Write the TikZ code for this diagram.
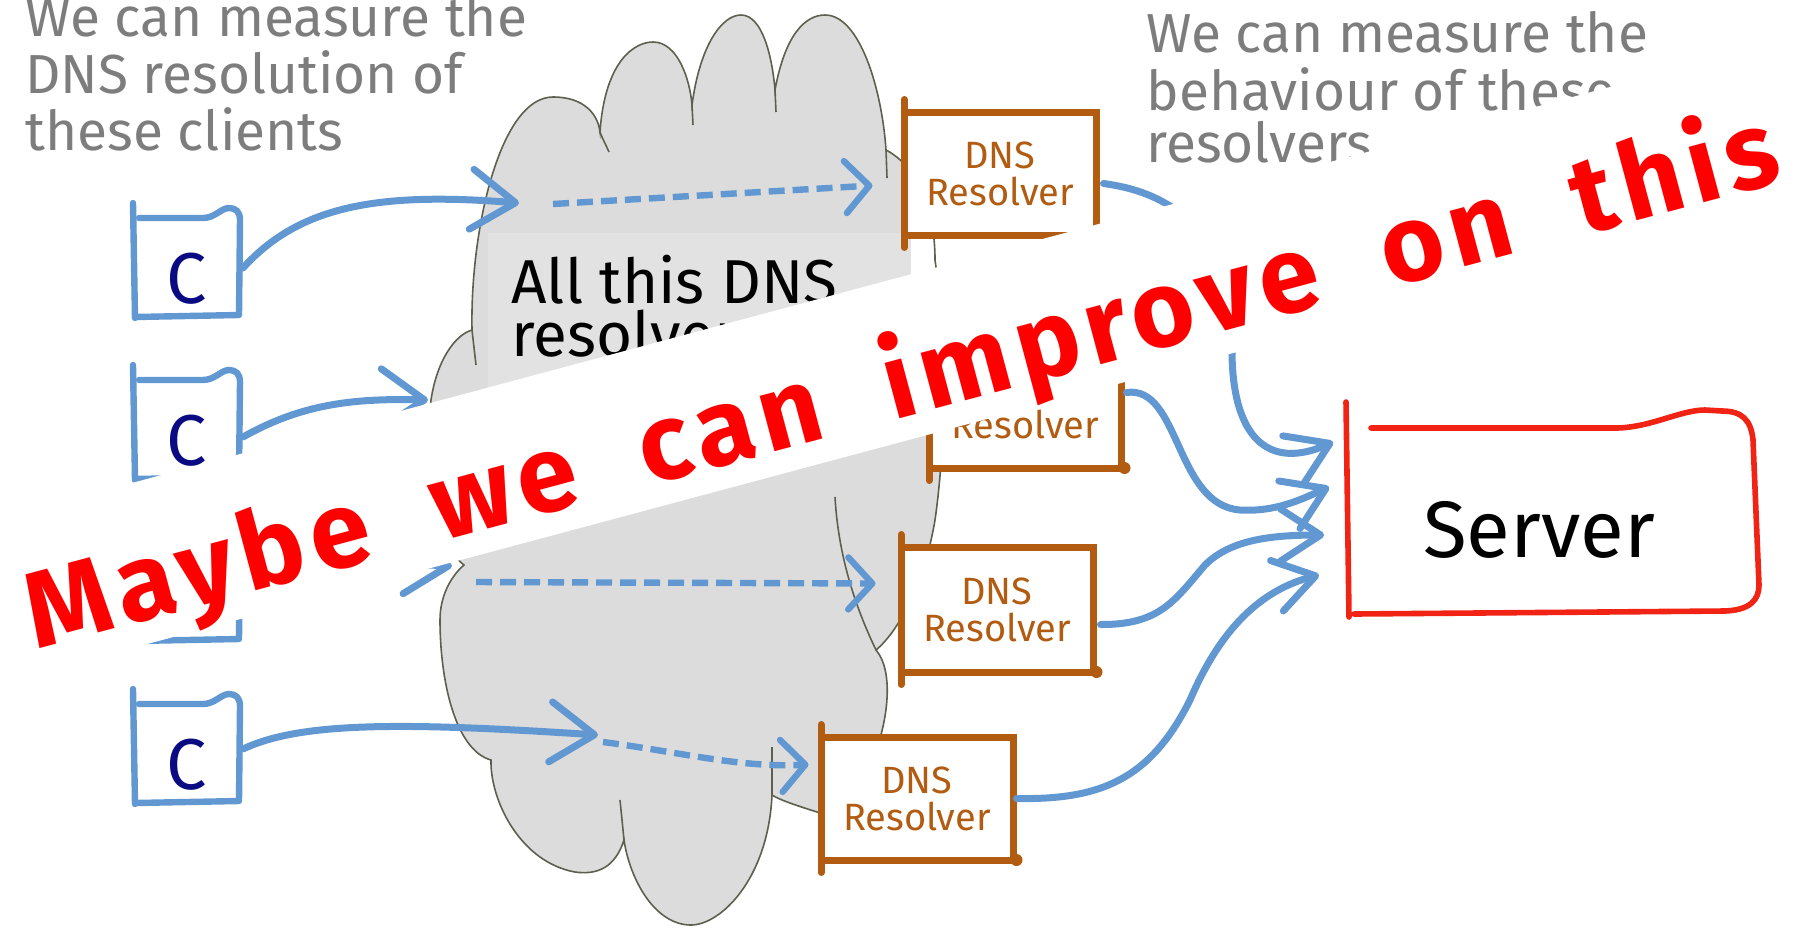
\documentclass[tikz,border=0pt]{standalone}
\usepackage{fontspec}
\setmainfont{Fira Sans}
\newfontfamily\banfont[LetterSpace=7]{Fira Sans}
\usetikzlibrary{arrows.meta}

\definecolor{notegray}{RGB}{125,125,125}
\definecolor{linkblue}{RGB}{98,152,210}
\definecolor{resbrown}{RGB}{178,92,18}
\definecolor{srvred}{RGB}{240,35,20}
\definecolor{cloudfill}{RGB}{220,220,220}
\definecolor{cloudline}{RGB}{95,95,80}
\definecolor{calloutfill}{RGB}{226,226,226}
\definecolor{clientnavy}{RGB}{10,10,130}
\definecolor{banred}{RGB}{255,0,0}

% outline of the resolver cloud (pixel units, y downwards)
\def\cloudoutline{(472,330) .. controls (470,230) and (500,97) .. (553,97)
 .. controls (585,97) and (598,115) .. (600,132)
 .. controls (605,60) and (635,42) .. (653,42) .. controls (678,42) and (690,80) .. (692,105)
 .. controls (700,45) and (722,15) .. (741,15) .. controls (762,15) and (772,55) .. (775,90)
 .. controls (785,35) and (805,15) .. (825,15) .. controls (860,15) and (882,90) .. (886,150)
 .. controls (915,165) and (935,205) .. (935,260)
 .. controls (948,350) and (945,450) .. (935,520) .. controls (925,580) and (900,630) .. (876,650)
 .. controls (910,690) and (860,830) .. (817,812) .. controls (795,805) and (780,800) .. (772,795)
 .. controls (768,880) and (720,925) .. (691,925) .. controls (655,925) and (630,880) .. (624,840)
 .. controls (615,868) and (597,875) .. (575,872) .. controls (520,862) and (490,800) .. (491,760)
 .. controls (455,750) and (440,680) .. (440,620) .. controls (440,597) and (450,577) .. (464,565)
 .. controls (430,540) and (425,450) .. (431,400) .. controls (437,360) and (455,335) .. (472,330) -- cycle}

% client box: name, left, top
\newcommand\clientbox[3]{%
  \node[cnode, anchor=north west] (#1) at (#2,#3) {};
  \draw[clientline] (#2,#3-5) -- (#2+2,#3+110);
  \draw[clientline] (#2+2,#3+109) -- (#2+106,#3+107) -- (#2+107,#3+12)
    .. controls (#2+107,#3+4) and (#2+103,#3) .. (#2+96,#3)
    .. controls (#2+88,#3) and (#2+82,#3+10) .. (#2+70,#3+10) -- (#2+6,#3+10);
  \node[clabel] (#1-label) at (#2+54,#3+71) {C};
}

% hand-drawn corner marks of a resolver box
\newcommand\resstubs[1]{%
  \draw[resline] ([shift={(3.5,-9)}]#1.north west) -- ([shift={(3.5,2)}]#1.north west);
  \draw[resline] ([shift={(3.5,-2)}]#1.south west) -- ([shift={(3.5,9)}]#1.south west);
  \fill[resbrown] ([shift={(0,-3.5)}]#1.south east) circle (3pt);
}

\begin{document}
\begin{tikzpicture}[x=0.5pt,y=-0.5pt,
  note/.style={text=notegray, font=\fontsize{27.5}{27.5}\selectfont, anchor=base west, inner sep=0},
  cnode/.style={minimum width=55pt, minimum height=55pt, inner sep=0, outer sep=0},
  clientline/.style={draw=linkblue, line width=3.2pt, line cap=round, line join=round},
  clabel/.style={text=clientnavy, font=\fontsize{36}{36}\selectfont, inner sep=0},
  resbox/.style={draw=resbrown, line width=3.5pt, fill=white, minimum width=96pt,
    align=center, text=resbrown, font=\fontsize{19}{18.5}\selectfont, inner sep=0},
  resline/.style={draw=resbrown, line width=3.5pt, line cap=round},
  srvline/.style={draw=srvred, line width=2.8pt, line cap=round, line join=round},
  clientflow/.style={draw=linkblue, line width=3.5pt, line cap=round,
    -{Straight Barb[length=22pt,width=30pt,round]}},
  srvflow/.style={draw=linkblue, line width=3.5pt, line cap=round,
    -{Straight Barb[length=20pt,width=26pt,round]}},
  dashflow/.style={draw=linkblue, line width=3.2pt, dash pattern=on 8pt off 4pt,
    -{Straight Barb[length=12pt,width=26pt,round]}},
  bantext/.style={text=banred, font=\banfont\bfseries\fontsize{54}{54}\selectfont, inner sep=0}
]
\useasboundingbox (0,0) rectangle (1814,933);
\clip (0,0) rectangle (1814,933);
\fill[white] (0,0) rectangle (1814,933);

% notes above the clients and the resolvers
\node[note] (nl1) at (25,36) {We can measure the};
\node[note] (nl2) at (25,93) {DNS resolution of};
\node[note] (nl3) at (25,150) {these clients};
\node[note] (nr1) at (1146,52) {We can measure the};
\node[note] (nr2) at (1146,110) {behaviour of these};
\node[note] (nr3) at (1146,162) {resolvers};

% the cloud
\fill[cloudfill] \cloudoutline;
\fill[white] (911,236) rectangle (1000,300);
\draw[cloudline, line width=0.8pt] \cloudoutline;
\draw[cloudline, line width=0.8pt]
  (600,132) .. controls (603,140) and (606,145) .. (609,152)
  (692,105) -- (693,125)
  (775,90) -- (776,112)
  (886,150) -- (887,178)
  (876,650) .. controls (852,600) and (838,550) .. (835,497)
  (772,795) -- (772,747)
  (624,840) -- (620,800)
  (472,330) -- (476,365);

% callout inside the cloud
\node[fill=calloutfill, minimum width=211.5pt, minimum height=98.5pt, anchor=north west,
  inner sep=0] (callout) at (488,233) {};
\node[anchor=base west, inner sep=0, font=\fontsize{31}{31}\selectfont] (co1) at (511,303) {All this DNS};
\node[anchor=base west, inner sep=0, font=\fontsize{31}{31}\selectfont] (co2) at (511,356) {resolver};

% clients
\clientbox{c1}{133}{208}
\clientbox{c2}{133}{370}
\clientbox{c3}{133}{532}
\clientbox{c4}{133}{694}

% resolvers
\node[resbox, minimum height=61.5pt] (r1) at (1000,173.5) {DNS\\Resolver};
\node[resbox, minimum height=61.5pt] (r2) at (1025,406.5) {DNS\\Resolver};
\node[resbox, minimum height=62.5pt] (r3) at (997,609.5) {DNS\\Resolver};
\node[resbox, minimum height=61.5pt] (r4) at (917,798.5) {DNS\\Resolver};
\resstubs{r1}\resstubs{r2}\resstubs{r3}\resstubs{r4}

% server
\node[minimum width=205.5pt, minimum height=105pt, inner sep=0] (server) at (1553,510) {};
\draw[srvline] (1346,402) -- (1349,617);
\draw[srvline] (1354,614) -- (1725,611) .. controls (1750,610) and (1759,600) .. (1759,585)
  -- (1753,440) .. controls (1751,420) and (1742,411) .. (1722,411) -- (1705,410)
  .. controls (1680,410) and (1650,428) .. (1615,428) -- (1371,428);
\node[inner sep=0, font=\fontsize{40}{40}\selectfont] (srvlabel) at (1539,530) {Server};

% ends of the queries inside the cloud
\coordinate (in1) at (519,203);
\coordinate (in2) at (428,400);
\coordinate (in3) at (452,566);
\coordinate (in4) at (598,735);
\coordinate (d1) at (553,204);
\coordinate (d3) at (476,582);
\coordinate (d4) at (603,742);

% clients into the cloud
\draw[clientflow] ([shift={(0,5)}]c1.east) .. controls (300,205) and (380,192) .. (in1);
\draw[clientflow] ([shift={(0,12)}]c2.east) .. controls (300,405) and (350,398) .. (in2);
\draw[clientflow] ([shift={(0,8)}]c3.east) .. controls (300,575) and (370,562) .. (in3);
\draw[clientflow] (c4.east) .. controls (300,722) and (400,722) .. (in4);

% through the cloud to the resolvers
\draw[dashflow] (d1) -- ([shift={(-28,12)}]r1.west);
\draw[dashflow] (d3) -- ([shift={(-22,-26)}]r3.west);
\draw[dashflow] (d4) .. controls (680,752) and (740,768) .. ([shift={(-9,-34)}]r4.west);

% resolvers to the server
\draw[srvflow] ([shift={(4,10)}]r1.east) .. controls (1190,195) and (1232,250) .. (1232,350)
  .. controls (1232,440) and (1270,470) .. ([shift={(-14,-68)}]server.west);
\draw[srvflow] ([shift={(2,-14)}]r2.east) .. controls (1180,385) and (1175,505) .. (1240,510)
  .. controls (1275,512) and (1300,500) .. ([shift={(-18,-23)}]server.west);
\draw[srvflow] ([shift={(4,15)}]r3.east) .. controls (1160,625) and (1175,600) .. (1205,565)
  .. controls (1230,540) and (1270,535) .. ([shift={(-23,25)}]server.west);
\draw[srvflow] (r4.east) .. controls (1100,800) and (1150,780) .. (1190,700)
  .. controls (1220,630) and (1260,590) .. ([shift={(-28,65)}]server.west);

% white banner with the slogan
\fill[white] (-20,523.7) -- (1834,26.9) -- (1834,192) -- (-20,688.8) -- cycle;
\node[bantext, rotate=15, anchor=base west] (slogan) at (36,650)
  {\makebox[905pt][s]{Maybe we can improve on this}};
\end{tikzpicture}
\end{document}
